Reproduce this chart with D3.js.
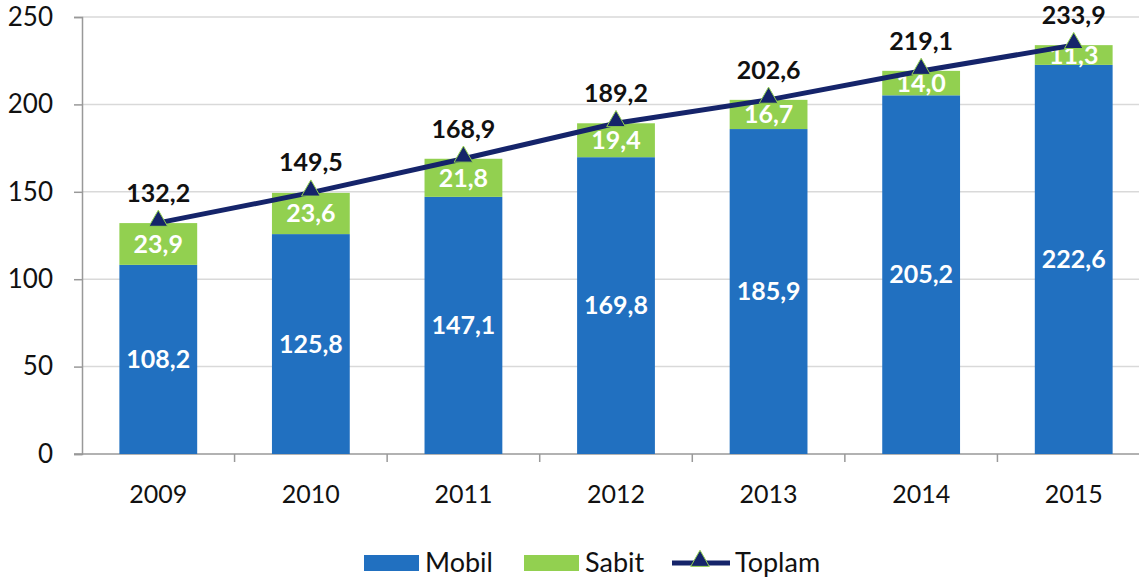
<!DOCTYPE html>
<html lang="tr">
<head>
    <meta charset="utf-8">
    <title>Mobil / Sabit / Toplam</title>
    <script src="https://d3js.org/d3.v7.min.js"></script>
    <style>
        body { margin: 0; background: #fff; }
        svg text { font-family: "Lato", "Open Sans", sans-serif; }
    </style>
</head>
<body>
<div id="chart"></div>
<script>
    // Data
    const years = ["2009", "2010", "2011", "2012", "2013", "2014", "2015"];
    const mobil = [108.2, 125.8, 147.1, 169.8, 185.9, 205.2, 222.6];
    const sabit = [23.9, 23.6, 21.8, 19.4, 16.7, 14.0, 11.3];
    const toplam = [132.2, 149.5, 168.9, 189.2, 202.6, 219.1, 233.9];
    const yTicks = [0, 50, 100, 150, 200, 250];

    const W = 1139, H = 583;
    const colors = {mobil: "#2170c0", sabit: "#92d050", toplam: "#15246a"};
    const fmt = v => d3.format(".1f")(v).replace(".", ",");

    const svg = d3.select("#chart").append("svg")
        .attr("width", W).attr("height", H);

    const x = d3.scaleBand().domain(years).range([82, 1150]).paddingInner(0.49).paddingOuter(0.245);
    const y = d3.scaleLinear().domain([0, 250]).range([454, 17]);

    // Gridlines
    svg.append("g")
        .selectAll("line")
        .data(yTicks.filter(d => d > 0))
        .join("line")
        .attr("x1", 82).attr("x2", W)
        .attr("y1", d => y(d)).attr("y2", d => y(d))
        .attr("stroke", "#d9d9d9").attr("stroke-width", 1.5);

    // Y axis
    const yAxis = svg.append("g")
        .attr("transform", "translate(82,0)")
        .call(d3.axisLeft(y).tickValues(yTicks).tickSize(8).tickPadding(21));
    yAxis.select(".domain").attr("stroke", "#999").attr("stroke-width", 1.5);
    yAxis.selectAll(".tick line").attr("stroke", "#999").attr("stroke-width", 1.5);
    yAxis.selectAll("text").attr("font-size", 26).attr("fill", "#111");

    // X axis
    const xAxis = svg.append("g")
        .attr("transform", `translate(0,${y(0)})`)
        .call(d3.axisBottom(x).tickSize(0).tickPadding(31));
    xAxis.select(".domain").attr("d", `M74,0H${W}`).attr("stroke", "#999").attr("stroke-width", 1.5);
    xAxis.selectAll("text").attr("font-size", 25).attr("fill", "#111");

    // category separators between bands
    const gap = (x.step() - x.bandwidth()) / 2;
    svg.append("g")
        .selectAll("line")
        .data(years.slice(1))
        .join("line")
        .attr("x1", d => x(d) - gap)
        .attr("x2", d => x(d) - gap)
        .attr("y1", y(0)).attr("y2", y(0) + 8)
        .attr("stroke", "#999").attr("stroke-width", 1.5);

    // Bars
    svg.append("g")
        .selectAll("rect")
        .data(years)
        .join("rect")
        .attr("x", d => x(d))
        .attr("width", x.bandwidth())
        .attr("y", (d, i) => y(mobil[i]))
        .attr("height", (d, i) => y(0) - y(mobil[i]))
        .attr("fill", colors.mobil);

    svg.append("g")
        .selectAll("rect")
        .data(years)
        .join("rect")
        .attr("x", d => x(d))
        .attr("width", x.bandwidth())
        .attr("y", (d, i) => y(mobil[i] + sabit[i]))
        .attr("height", (d, i) => y(mobil[i]) - y(mobil[i] + sabit[i]))
        .attr("fill", colors.sabit);

    // Bar labels
    svg.append("g")
        .selectAll("text")
        .data(years)
        .join("text")
        .attr("x", d => x(d) + x.bandwidth() / 2)
        .attr("y", (d, i) => y(mobil[i] / 2))
        .attr("dy", "0.35em")
        .attr("text-anchor", "middle")
        .attr("font-size", 25).attr("font-weight", "bold").attr("fill", "#fff")
        .text((d, i) => fmt(mobil[i]));

    svg.append("g")
        .selectAll("text")
        .data(years)
        .join("text")
        .attr("x", d => x(d) + x.bandwidth() / 2)
        .attr("y", (d, i) => y(mobil[i] + sabit[i] / 2))
        .attr("dy", "0.35em")
        .attr("text-anchor", "middle")
        .attr("font-size", 25).attr("font-weight", "bold").attr("fill", "#fff")
        .text((d, i) => fmt(sabit[i]));

    // Total line
    const cx = d => x(d) + x.bandwidth() / 2;
    svg.append("path")
        .datum(years)
        .attr("d", d3.line().x(cx).y((d, i) => y(toplam[i])))
        .attr("fill", "none")
        .attr("stroke", colors.toplam)
        .attr("stroke-width", 5);

    const tri = d3.symbol().type(d3.symbolTriangle).size(150);
    svg.append("g")
        .selectAll("path")
        .data(years)
        .join("path")
        .attr("d", tri)
        .attr("transform", (d, i) => `translate(${cx(d)},${y(toplam[i]) - 2})`)
        .attr("fill", colors.toplam)
        .attr("stroke", colors.sabit).attr("stroke-width", 1);

    svg.append("g")
        .selectAll("text")
        .data(years)
        .join("text")
        .attr("x", cx)
        .attr("y", (d, i) => y(toplam[i]) - 30)
        .attr("dy", "0.35em")
        .attr("text-anchor", "middle")
        .attr("font-size", 25).attr("font-weight", "bold").attr("fill", "#111")
        .text((d, i) => fmt(toplam[i]));

    // Legend
    const legend = svg.append("g").attr("transform", "translate(0,563)");
    legend.append("rect").attr("x", 364).attr("y", -8).attr("width", 55).attr("height", 16).attr("fill", colors.mobil);
    legend.append("text").attr("x", 425).attr("dy", "0.35em").attr("font-size", 27).attr("fill", "#111").text("Mobil");
    legend.append("rect").attr("x", 524).attr("y", -8).attr("width", 55).attr("height", 16).attr("fill", colors.sabit);
    legend.append("text").attr("x", 585).attr("dy", "0.35em").attr("font-size", 27).attr("fill", "#111").text("Sabit");
    legend.append("line").attr("x1", 672).attr("x2", 730).attr("stroke", colors.toplam).attr("stroke-width", 5);
    legend.append("path").attr("d", tri).attr("transform", "translate(700,-2)")
        .attr("fill", colors.toplam).attr("stroke", colors.sabit).attr("stroke-width", 1);
    legend.append("text").attr("x", 735).attr("dy", "0.35em").attr("font-size", 27).attr("fill", "#111").text("Toplam");
</script>
</body>
</html>
